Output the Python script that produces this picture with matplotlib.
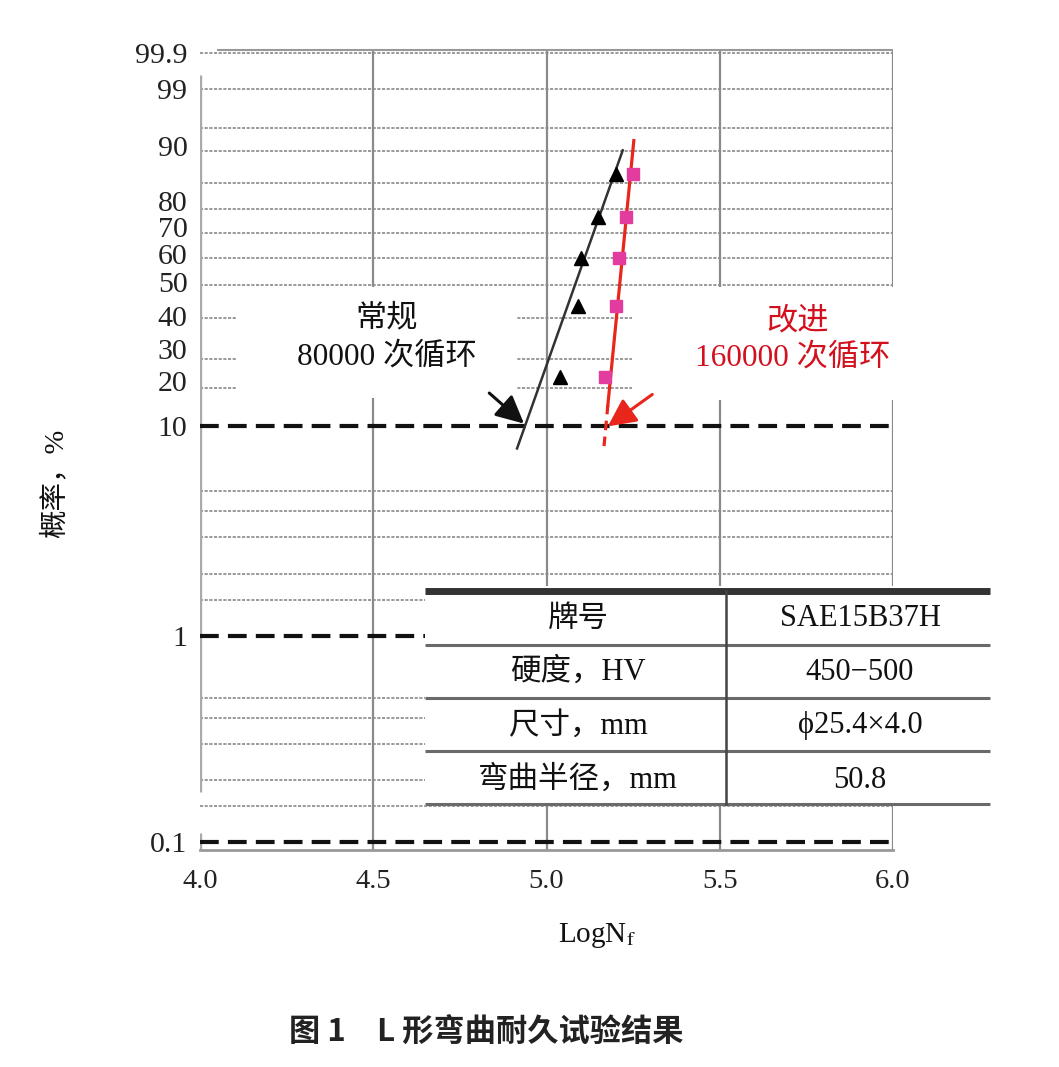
import numpy as np
import matplotlib
matplotlib.use('Agg')
import matplotlib.pyplot as plt
from matplotlib.patches import Rectangle
from matplotlib.transforms import Affine2D

# ---------------- data ----------------
conv_logN = [5.04, 5.09, 5.10, 5.15, 5.20]
conv_F = [16.7, 33.3, 50.0, 66.7, 83.3]
impr_logN = [5.17, 5.20, 5.21, 5.23, 5.25]
impr_F = [16.7, 33.3, 50.0, 66.7, 83.3]

conv_fit_logN = [4.915, 5.220]
conv_fit_F = [7.9, 90.2]
impr_fit_logN = [5.177, 5.252]
impr_fit_F = [12.5, 92.5]
impr_ext_logN = [5.166, 5.177]
impr_ext_F = [8.1, 12.5]

b10_logN = [4.935, 5.177]
b10_F = [10.3, 10.0]

x_ticks = [4.0, 4.5, 5.0, 5.5, 6.0]
x_ticklabels = ['4.0', '4.5', '5.0', '5.5', '6.0']
y_label_pos = [99.9, 99.0, 91.2, 73.0, 62.5, 51.5, 41.1, 30.3, 22.1, 16.0, 10, 1, 0.1]
y_ticklabels = ['99.9', '99', '90', '80', '70', '60', '50', '40', '30', '20', '10', '1', '0.1']
grid_minor = [99.9, 99, 95, 90, 80, 70, 60, 50, 40, 30, 20, 15, 5, 4, 3, 2, 1.5,
              0.5, 0.4, 0.3, 0.2, 0.15]
grid_major = [10, 1, 0.1]

label_conv = ['常规', '80000 次循环']
label_impr = ['改进', '160000 次循环']
table_params = ['牌号', '硬度，HV', '尺寸，mm', '弯曲半径，mm']
table_values = ['SAE15B37H', '450−500', 'ϕ25.4×4.0', '50.8']
caption = '图 1\u3000L 形弯曲耐久试验结果'

# ---------------- style ----------------
plt.rcParams['font.family'] = ['Liberation Serif', 'Noto Sans CJK SC', 'DejaVu Sans']
plt.rcParams['mathtext.fontset'] = 'stix'

W, H = 1059, 1067
fig = plt.figure(figsize=(W / 100, H / 100), dpi=100)
ax = fig.add_axes([200 / W, 1 - 850 / H, 693 / W, 800 / H])
pix = Affine2D().scale(1 / W, -1 / H).translate(0, 1) + fig.transFigure


def fwd(F):
    F = np.clip(np.asarray(F, dtype=float), 1e-6, 100 - 1e-9)
    return np.log(-np.log(1 - F / 100.0))


def inv(w):
    w = np.asarray(w, dtype=float)
    return 100.0 * (1 - np.exp(-np.exp(w)))


ax.set_yscale('function', functions=(fwd, inv))
ax.set_xlim(4.0, 6.0)
ax.set_ylim(0.0914, 99.9215)

for s in ['top', 'right', 'left']:
    ax.spines[s].set_visible(False)
ax.spines['bottom'].set_color('#999999')
ax.spines['bottom'].set_linewidth(2)

ax.set_xticks(x_ticks, labels=x_ticklabels)
ax.set_yticks(y_label_pos, labels=y_ticklabels)
ax.minorticks_off()
ax.tick_params(axis='both', length=0, colors='#222222')
ax.tick_params(axis='x', pad=14, labelsize=20.5)
ax.tick_params(axis='y', pad=9, labelsize=21.5)

# grid
for g in grid_minor:
    ax.axhline(g, color='#9a9a9a', lw=1.4, ls=(0, (1.6, 0.8)), zorder=1)
for g in grid_major:
    ax.axhline(g, color='#111111', lw=3.0, ls=(0, (4.5, 2.2)), zorder=1.2)
for xv in x_ticks[1:]:
    ax.axvline(xv, color='#8a8a8a', lw=1.6, zorder=1.1)
ax.vlines(4.0, 0.1745, 99.54, color='#aaaaaa', lw=2.4, zorder=1.1)
ax.vlines(4.0, 0.0914, 0.11, color='#aaaaaa', lw=2.4, zorder=1.1)
ax.hlines(99.9215, 4.05, 6.0, color='#999999', lw=1.5, zorder=1.1, clip_on=False)

# white backgrounds behind the annotations
for (x0, y0, x1, y1) in [(237, 287, 517, 398), (632, 287, 1000, 400)]:
    ax.add_patch(Rectangle((x0, y0), x1 - x0, y1 - y0, transform=pix,
                           facecolor='white', edgecolor='none', zorder=2, clip_on=False))

# fitted lines
ax.plot(conv_fit_logN, conv_fit_F, color='#333333', lw=1.8, zorder=3)
ax.plot(impr_fit_logN, impr_fit_F, color='#e8261c', lw=2.3, zorder=3)
ax.plot(impr_ext_logN, impr_ext_F, color='#e8261c', lw=2.3, ls=(0, (3, 2)), zorder=3)

# data points
ax.plot(conv_logN, conv_F, ls='none', marker='^', ms=10, color='black', zorder=4)
ax.plot(impr_logN, impr_F, ls='none', marker='s', ms=8, color='#e23c9e', zorder=4)

# arrows
ax.annotate('', xy=(b10_logN[0], b10_F[0]), xytext=(-25, 22), textcoords='offset points',
            arrowprops=dict(arrowstyle='-|>,head_length=0.85,head_width=0.42',
                            mutation_scale=20, lw=2.2, color='#111111',
                            shrinkA=0, shrinkB=0), zorder=5)
ax.annotate('', xy=(b10_logN[1], b10_F[1]), xytext=(32, 23), textcoords='offset points',
            arrowprops=dict(arrowstyle='-|>,head_length=0.85,head_width=0.42',
                            mutation_scale=20, lw=2.2, color='#e8261c',
                            shrinkA=0, shrinkB=0), zorder=5)

# annotation texts
ax.text(387, 319, label_conv[0], transform=pix, ha='center', va='center',
        fontsize=22.5, color='#111111', zorder=6)
ax.text(387, 357, label_conv[1], transform=pix, ha='center', va='center',
        fontsize=22.5, color='#111111', zorder=6)
ax.text(797, 322, label_impr[0], transform=pix, ha='center', va='center',
        fontsize=22.5, color='#d2101e', zorder=6)
ax.text(793, 358, label_impr[1], transform=pix, ha='center', va='center',
        fontsize=22.5, color='#d2101e', zorder=6)

# table
tx0, tx1, tmid = 425, 990, 726
ty_top, row_lines = 591, [645, 698, 751, 804]
ax.add_patch(Rectangle((tx0, 586), tx1 - tx0, 806 - 586, transform=pix,
                       facecolor='white', edgecolor='none', zorder=7, clip_on=False))
ax.plot([tx0, tx1], [ty_top, ty_top], transform=pix, color='#333333', lw=5,
        zorder=8, clip_on=False, solid_capstyle='butt')
for yl in row_lines:
    ax.plot([tx0, tx1], [yl, yl], transform=pix, color='#6a6a6a', lw=2.2,
            zorder=8, clip_on=False, solid_capstyle='butt')
ax.plot([tmid, tmid], [ty_top, row_lines[-1]], transform=pix, color='#444444',
        lw=1.8, zorder=8, clip_on=False)
row_centers = [619, 672, 726, 780]
for p, v, yc in zip(table_params, table_values, row_centers):
    ax.text(578, yc, p, transform=pix, ha='center', va='center', fontsize=22,
            color='#111111', zorder=9)
    ax.text(860, yc, v, transform=pix, ha='center', va='center', fontsize=22,
            color='#111111', zorder=9)

# axis labels and caption
fig.text(597 / W, 1 - 935 / H, r'LogN$_\mathrm{f}$', ha='center', va='center',
         fontsize=21, color='#111111')
fig.text(55 / W, 1 - 483 / H, '概率，%', rotation=90, ha='center', va='center',
         fontsize=20.5, color='#111111')
fig.text(486 / W, 1 - 1033 / H, caption, ha='center', va='center', fontsize=22.5,
         family=['Noto Sans CJK SC', 'DejaVu Sans'], weight='bold', color='#222222')

fig.savefig('out.png', dpi=100)
